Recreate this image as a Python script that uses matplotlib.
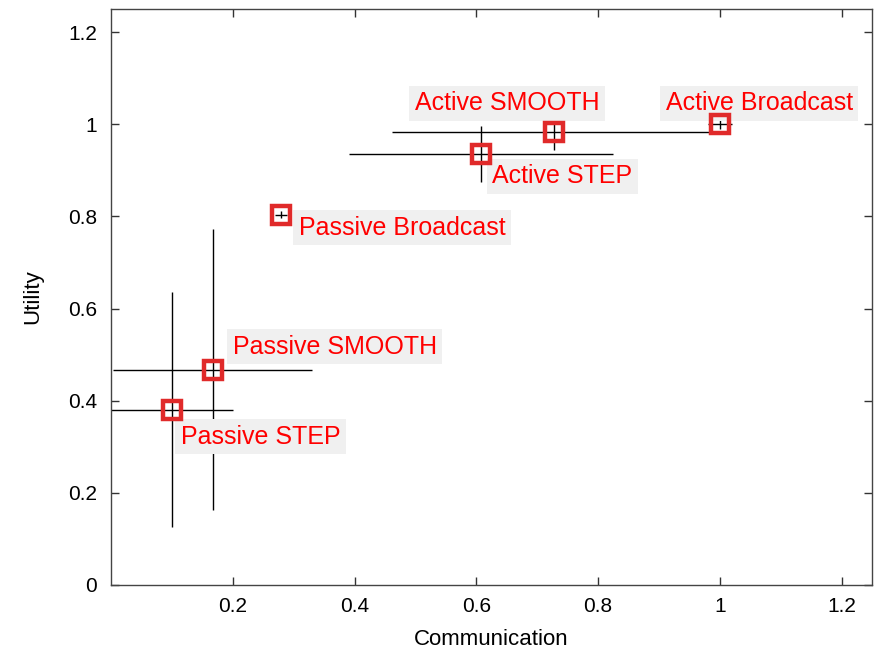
import numpy as np
import matplotlib
matplotlib.use("Agg")
import matplotlib.pyplot as plt

# =============================
# Data
# =============================
names = ["Active Broadcast", "Active SMOOTH", "Active STEP",
         "Passive Broadcast", "Passive SMOOTH", "Passive STEP"]
comm = [1.0, 0.727, 0.608, 0.279, 0.167, 0.100]
utility = [1.0, 0.983, 0.935, 0.804, 0.467, 0.380]
comm_err = [0.02, 0.265, 0.217, 0.01, 0.163, 0.100]
util_err = [0.01, 0.040, 0.060, 0.008, 0.305, 0.255]

# label offsets in pixels (text left edge / vertical centre vs. the point)
label_dx = [-54, -139, 11, 18, 20, 9]
label_dy = [21, 29, -22, -13, 23, -27]

plt.rcParams['font.family'] = ['Liberation Sans', 'DejaVu Sans']

fig = plt.figure(figsize=(8.77, 6.52), dpi=100)
ax = fig.add_axes([0.1266, 0.1028, 0.8677, 0.8834])

ax.errorbar(comm, utility, xerr=comm_err, yerr=util_err, fmt='none',
            ecolor='black', elinewidth=1.0, capsize=0, zorder=2)
ax.plot(comm, utility, 's', markersize=13, markerfacecolor='none',
        markeredgecolor='#e02a2a', markeredgewidth=3.2, zorder=5)

for n, x, y, dx, dy in zip(names, comm, utility, label_dx, label_dy):
    ax.annotate(n, (x, y), xytext=(dx, dy), textcoords='offset pixels',
                ha='left', va='center', color='#ff0000', fontsize=18,
                bbox=dict(boxstyle='square,pad=0.22', facecolor='#f0f0f0',
                          edgecolor='none'), zorder=4)

ax.set_xlim(0, 1.25)
ax.set_ylim(0, 1.25)
ax.set_xticks([0.2, 0.4, 0.6, 0.8, 1.0, 1.2])
ax.set_xticklabels(["0.2", "0.4", "0.6", "0.8", "1", "1.2"])
ax.set_yticks([0, 0.2, 0.4, 0.6, 0.8, 1.0, 1.2])
ax.set_yticklabels(["0", "0.2", "0.4", "0.6", "0.8", "1", "1.2"])
ax.tick_params(direction='in', length=6, width=1, top=True, right=True,
               labelsize=15, color='#333333')
ax.tick_params(axis='y', pad=10)
ax.tick_params(axis='x', pad=9)
for s in ax.spines.values():
    s.set_color('#444444')
    s.set_linewidth(1.0)

ax.set_xlabel("Communication", fontsize=16, labelpad=9)
ax.set_ylabel("Utility", fontsize=16, labelpad=18)

fig.savefig("out.png", dpi=100)
